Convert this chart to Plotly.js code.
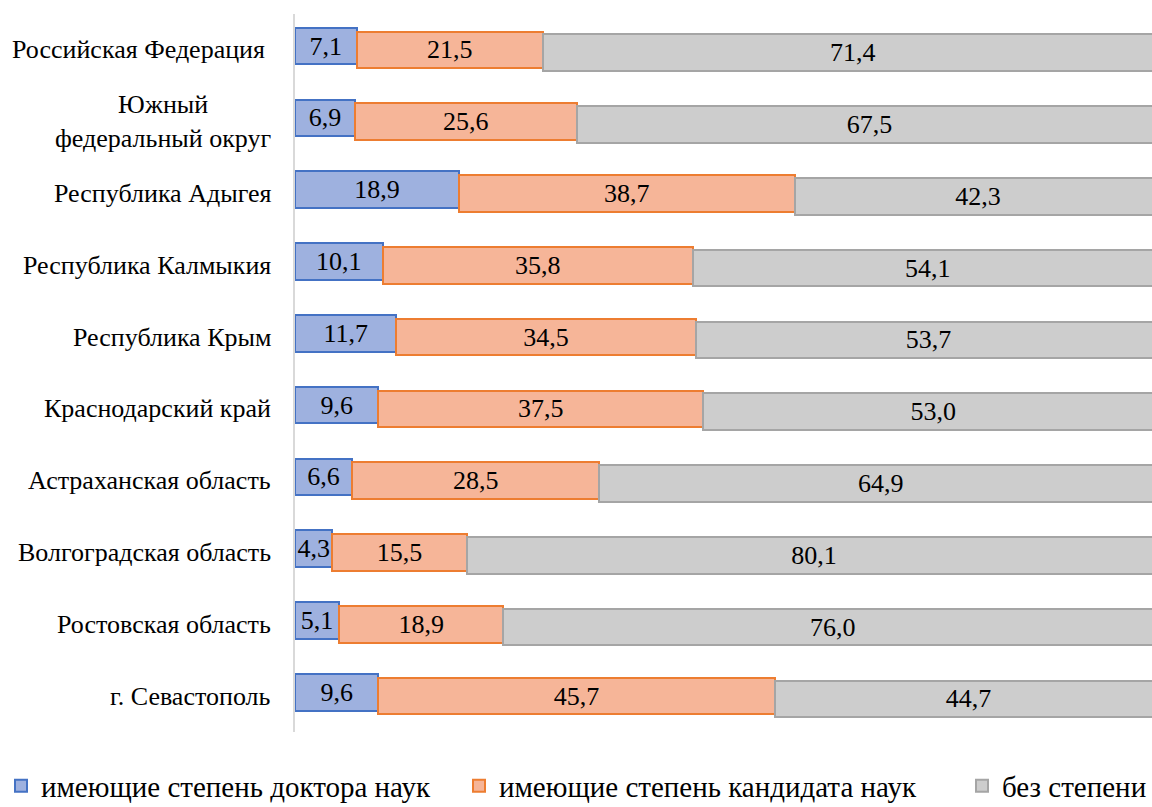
<!DOCTYPE html>
<html>
<head>
<meta charset="utf-8">
<script src="https://cdn.plot.ly/plotly-3.0.1.min.js"></script>
<style>html,body{margin:0;padding:0;background:#fff;overflow:hidden;}#chart{width:1164px;height:807px;}</style>
</head>
<body>
<div id="chart"></div>
<script>
const categories = ["Российская Федерация\u00a0", "Южный<br>федеральный округ", "Республика Адыгея", "Республика Калмыкия", "Республика Крым", "Краснодарский край", "Астраханская область", "Волгоградская область", "Ростовская область", "г. Севастополь"];
const seriesNames = ["имеющие степень доктора наук", "имеющие степень кандидата наук", "без степени"];
const doctors = [7.1, 6.9, 18.9, 10.1, 11.7, 9.6, 6.6, 4.3, 5.1, 9.6];
const candidates = [21.5, 25.6, 38.7, 35.8, 34.5, 37.5, 28.5, 15.5, 18.9, 45.7];
const noDegree = [71.4, 67.5, 42.3, 54.1, 53.7, 53.0, 64.9, 80.1, 76.0, 44.7];

const FONT = "Liberation Serif";
const W = 1164;
const fills = ["#9eb1df", "#f6b598", "#cdcdcd"];
const borders = ["#4472c4", "#ed7d31", "#a5a5a5"];
const shifts = [-0.052, 0, 0.04];
const barW = 0.51;
const seriesVals = [doctors, candidates, noDegree];
const legendIds = ["legend", "legend2", "legend3"];

const traces = seriesVals.map((vals, i) => ({
  type: "bar",
  orientation: "h",
  name: seriesNames[i],
  y: categories,
  x: vals,
  width: barW,
  offset: -barW / 2 + shifts[i],
  marker: { color: fills[i], line: { color: borders[i], width: 2 } },
  texttemplate: "%{x:.1f}",
  textposition: "inside",
  insidetextanchor: "middle",
  constraintext: "none",
  textangle: 0,
  textfont: { family: FONT, size: 26, color: "#000" },
  hoverinfo: "skip",
  legend: legendIds[i],
  cliponaxis: false
}));

const annotations = categories.map(c => ({
  xref: "paper", yref: "y", x: 0, y: c,
  xanchor: "right", yanchor: "middle", xshift: -22,
  align: "center", showarrow: false, text: c,
  font: { family: FONT, size: 26, color: "#000" }
}));

function leg(xpx) {
  return {
    xref: "container", yref: "container",
    x: xpx / W, y: 1 - 786 / 807,
    xanchor: "left", yanchor: "middle",
    orientation: "h",
    font: { family: FONT, size: 29, color: "#000" },
    bgcolor: "rgba(0,0,0,0)", borderwidth: 0
  };
}

const layout = {
  width: W, height: 807,
  margin: { l: 295, r: 0, t: 14, b: 75, pad: 0 },
  paper_bgcolor: "#fff", plot_bgcolor: "#fff",
  barmode: "stack",
  separators: ", ",
  showlegend: true,
  xaxis: { range: [0, 100.2], showgrid: false, zeroline: false, showticklabels: false, showline: false, fixedrange: true },
  yaxis: { type: "category", autorange: "reversed", showticklabels: false, showgrid: false, zeroline: false, showline: true, linecolor: "#d9d9d9", linewidth: 2, ticks: "", fixedrange: true },
  legend: leg(1),
  legend2: leg(459),
  legend3: leg(962),
  annotations: annotations,
  font: { family: FONT, size: 26, color: "#000" }
};

Plotly.newPlot("chart", traces, layout, { displayModeBar: false, staticPlot: true });
</script>
</body>
</html>
